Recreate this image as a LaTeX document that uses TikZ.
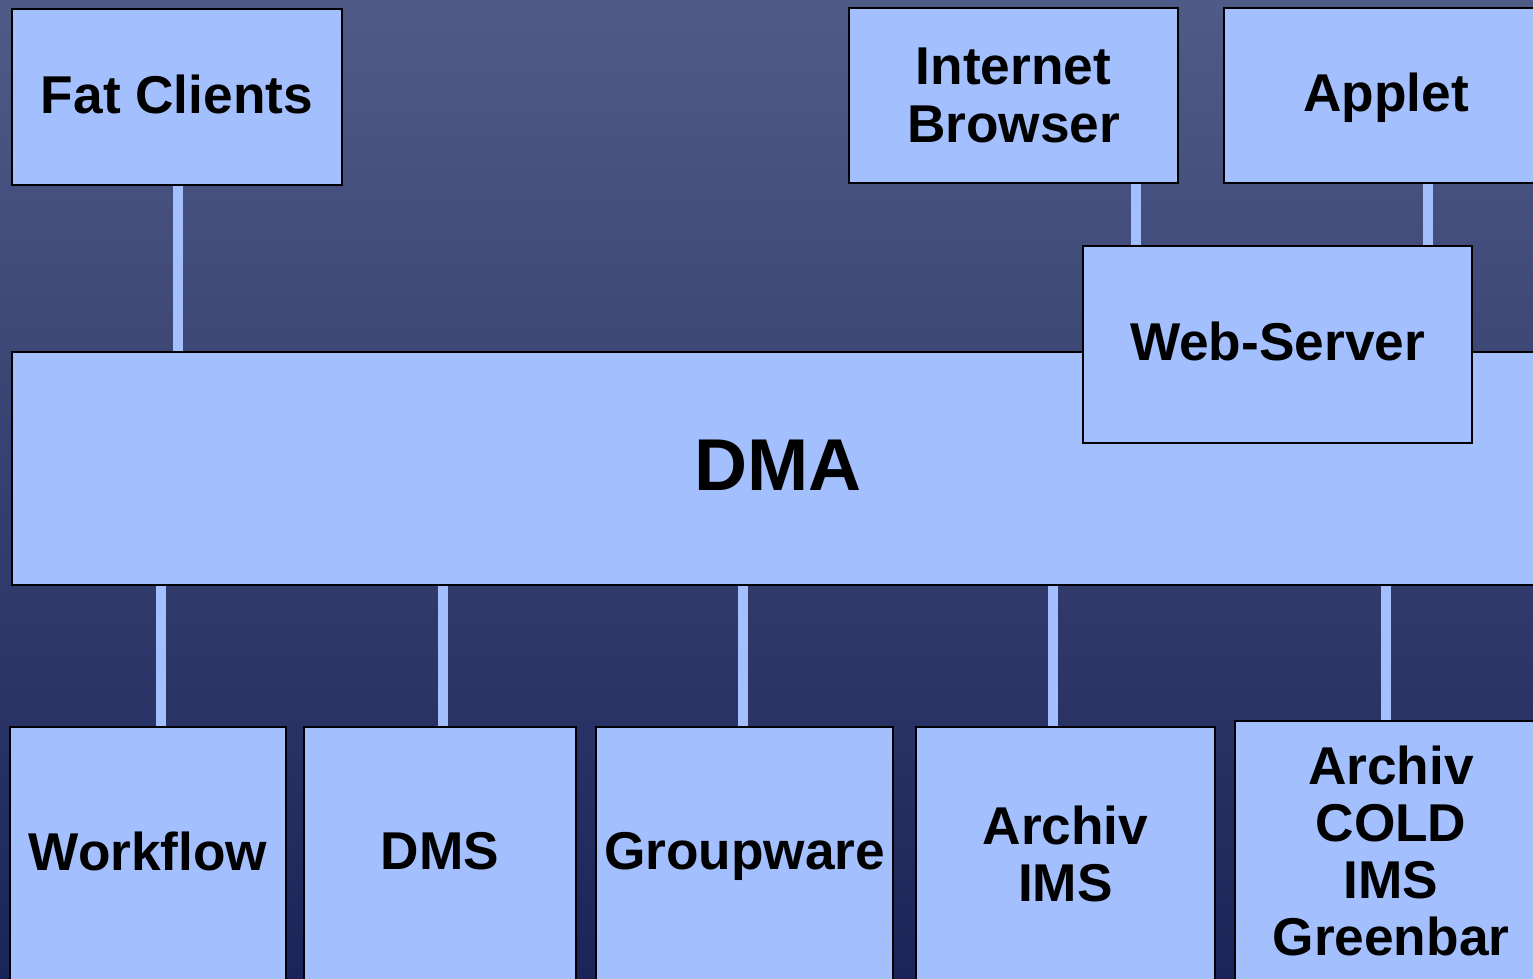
\documentclass[tikz,border=0pt]{standalone}
\usepackage{fontspec}
\setmainfont{Liberation Sans}
\definecolor{bgtop}{RGB}{79,91,135}
\definecolor{bgbot}{RGB}{27,36,88}
\definecolor{boxfill}{RGB}{163,191,253}
\begin{document}
\begin{tikzpicture}[x=0.02cm,y=-0.02cm,
  box/.style={draw=black,line width=1.1pt,fill=boxfill,inner sep=0pt,align=center,
    font=\fontsize{30.3}{32.5}\selectfont\bfseries},
  one/.style={text depth=3.4pt},
  conn/.style={draw=boxfill,line width=6pt,line cap=butt}]
\useasboundingbox (0,0) rectangle (1533,979);
\clip (0,0) rectangle (1533,979);
\shade[top color=bgtop,bottom color=bgbot] (0,0) rectangle (1533,979);
% nodes
\node[box,one,minimum width=6.6cm,minimum height=3.52cm] (fat) at (177,97) {Fat Clients};
\node[box,minimum width=6.58cm,minimum height=3.5cm] (ib) at (1013.5,95.5) {Internet\\Browser};
\node[box,one,minimum width=6.48cm,minimum height=3.5cm] (applet) at (1386,95.5) {Applet};
\node[box,one,minimum width=30.64cm,minimum height=4.66cm,font=\fontsize{41.8}{45}\selectfont\bfseries] (dma) at (778,468.5) {DMA};
\node[box,one,minimum width=7.78cm,minimum height=3.94cm] (web) at (1277.5,344.5) {Web-Server};
\node[box,one,minimum width=5.52cm,minimum height=5.08cm] (wf) at (148,854) {Workflow};
\node[box,one,minimum width=5.44cm,minimum height=5.08cm] (dms) at (440,854) {DMS};
\node[box,one,minimum width=5.94cm,minimum height=5.08cm] (gw) at (744.5,854) {Groupware};
\node[box,minimum width=5.98cm,minimum height=5.08cm] (aims) at (1065.5,854) {Archiv\\IMS};
\node[box,minimum width=6.24cm,minimum height=5.2cm] (acold) at (1391,851) {Archiv\\COLD\\IMS\\Greenbar};
% connectors
\draw[conn] (178,0 |- fat.south) -- (178,0 |- dma.north);
\draw[conn] (1136,0 |- ib.south) -- (1136,0 |- web.north);
\draw[conn] (1428,0 |- applet.south) -- (1428,0 |- web.north);
\draw[conn] (161,0 |- dma.south) -- (161,0 |- wf.north);
\draw[conn] (443,0 |- dma.south) -- (443,0 |- dms.north);
\draw[conn] (743,0 |- dma.south) -- (743,0 |- gw.north);
\draw[conn] (1053,0 |- dma.south) -- (1053,0 |- aims.north);
\draw[conn] (1386,0 |- dma.south) -- (1386,0 |- acold.north);
\end{tikzpicture}
\end{document}
